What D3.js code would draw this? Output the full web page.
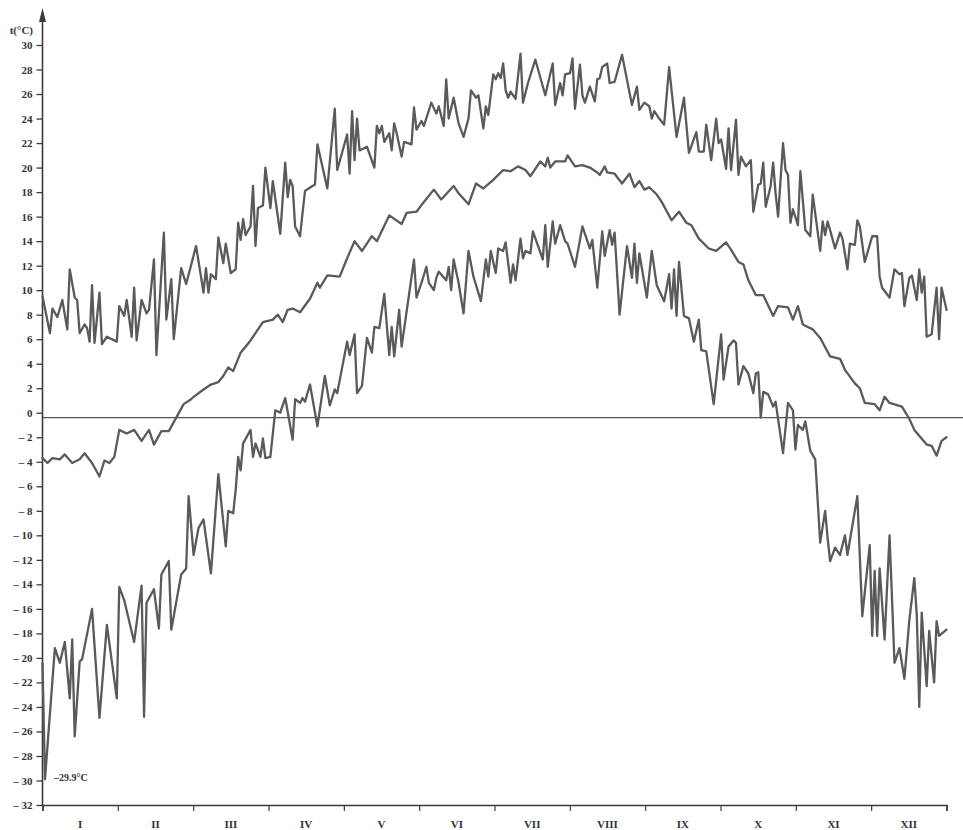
<!DOCTYPE html>
<html>
<head>
<meta charset="utf-8">
<script src="https://cdn.jsdelivr.net/npm/d3@7/dist/d3.min.js"></script>
<style>
  html, body { margin: 0; padding: 0; background: #ffffff; }
  svg { display: block; }
</style>
</head>
<body>
<svg id="chart" width="963" height="830"></svg>
<script>
// Month labels along the time axis
const monthLabels = ["I", "II", "III", "IV", "V", "VI", "VII", "VIII", "IX", "X", "XI", "XII"];
// Temperature ticks (°C)
const tempTicks = d3.range(-32, 31, 2);
const unitLabel = "t(°C)";
const extremeLabel = "–29.9°C";
const baselineTemp = -0.4;

// Daily maximum temperature: [day of year, °C]
const maxSeries = [
  [0,9.5],[3,6.5],[4,8.5],[6,7.8],[8,9.2],[10,6.8],[11,11.7],[13,9.4],[14,9.2],[15,6.5],[17,7.2],[18,6.9],[19,5.8],[20,10.4],[21,5.7],
  [23,9.8],[24,5.6],[26,6.2],[30,5.8],[31,8.7],[33,7.9],[34,9.2],[36,6.2],[37,10.2],[38,5.9],[40,9.2],[42,8.1],[43,8.4],[45,12.5],[46,4.7],
  [49,14.7],[50,7.6],[52,10.9],[53,6.0],[56,11.8],[58,10.5],[62,13.6],[64,11.1],[65,9.8],[66,11.8],[67,9.8],[68,11.3],[70,10.9],[71,14.3],
  [73,12.2],[74,13.8],[76,11.4],[78,11.7],[79,15.5],[80,14.1],[81,15.8],[82,14.5],[84,15.2],[85,18.5],[86,13.6],[87,16.7],[89,16.9],[90,20.0],
  [92,16.7],[93,18.9],[96,14.6],[98,20.4],[99,17.6],[100,19.0],[101,18.5],[102,15.2],[104,14.4],[105,16.3],[106,18.1],[109,18.5],[110,18.6],
  [111,21.9],[115,18.3],[118,24.8],[119,19.8],[123,22.7],[124,19.5],[125,24.6],[126,20.6],[127,24.0],[128,21.4],[131,21.7],[134,20.0],
  [135,23.4],[136,22.8],[137,23.4],[138,22.1],[140,22.8],[141,21.4],[142,23.6],[143,22.8],[145,20.9],[146,22.1],[149,21.9],[150,24.9],
  [151,23.1],[153,23.8],[154,23.4],[157,25.3],[159,24.4],[160,25.0],[162,23.4],[163,27.2],[164,24.0],[166,25.7],[168,23.6],[170,22.5],
  [172,24.0],[173,26.3],[175,25.7],[176,25.9],[178,23.2],[179,25.0],[180,24.3],[182,27.6],[183,27.2],[184,27.7],[185,27.3],[186,28.5],
  [187,26.3],[188,25.7],[189,26.2],[191,25.6],[193,29.3],[194,25.3],[196,26.9],[199,28.8],[203,25.9],[206,28.5],[207,25.1],[209,26.9],
  [210,25.9],[211,27.6],[213,27.7],[214,28.9],[215,24.8],[217,28.4],[218,25.9],[219,25.3],[221,26.6],[223,25.4],[224,27.2],[225,27.3],
  [226,28.2],[228,28.5],[229,26.9],[231,27.0],[234,29.2],[238,25.1],[240,26.6],[241,24.7],[243,25.3],[245,25.0],[246,24.0],[247,24.6],
  [249,24.0],[251,23.5],[253,28.2],[256,22.5],[259,25.7],[261,21.2],[264,22.9],[265,21.3],[267,21.3],[268,23.5],[270,20.6],[272,24.0],
  [273,22.0],[274,22.3],[276,19.9],[277,23.2],[278,19.8],[280,23.9],[281,19.4],[282,20.9],[284,20.1],[286,20.6],[287,16.4],[289,18.6],
  [290,18.7],[291,20.4],[292,16.8],[294,18.5],[295,20.4],[296,17.9],[297,16.0],[299,22.0],[300,19.8],[301,19.4],[302,15.5],[303,16.6],
  [305,15.3],[306,19.7],[308,14.9],[310,14.4],[311,17.8],[314,13.2],[315,15.6],[316,14.5],[317,15.6],[318,14.9],[320,13.4],[322,14.7],
  [323,14.2],[325,11.7],[326,13.8],[328,13.7],[329,15.7],[330,15.2],[332,12.3],[335,14.4],[337,14.4],[338,11.1],[339,10.2],[342,9.4],
  [344,11.7],[346,11.3],[347,11.4],[348,8.7],[350,11.0],[351,11.2],[353,9.2],[354,11.7],[355,9.8],[356,11.1],[357,6.2],[359,6.4],
  [361,10.2],[362,6.0],[363,10.2],[365,8.4]
];

// Daily mean temperature: [day of year, °C]
const meanSeries = [
  [0,-3.7],[2,-4.1],[4,-3.7],[7,-3.8],[9,-3.4],[12,-4.1],[15,-3.8],[17,-3.3],[20,-4.1],[23,-5.2],[25,-3.9],[27,-4.1],[29,-3.6],[31,-1.4],
  [34,-1.7],[37,-1.4],[40,-2.3],[43,-1.4],[45,-2.6],[48,-1.5],[51,-1.5],[54,-0.4],[57,0.7],[60,1.1],[61,1.3],[65,1.9],[68,2.3],[71,2.5],
  [73,3.0],[75,3.7],[77,3.4],[80,4.9],[84,5.9],[89,7.4],[93,7.6],[95,8.0],[97,7.4],[99,8.4],[101,8.5],[104,8.2],[108,9.3],[111,10.6],
  [112,10.2],[115,11.2],[120,11.1],[123,12.6],[126,14.0],[129,13.2],[133,14.4],[135,14.0],[140,16.1],[145,15.4],[147,16.3],[151,16.4],
  [154,17.2],[158,18.2],[161,17.4],[166,18.5],[168,17.9],[172,17.0],[175,18.7],[178,18.3],[182,19.0],[186,19.8],[189,19.7],[192,20.1],
  [195,19.8],[197,19.3],[200,20.2],[201,20.5],[203,20.1],[204,20.8],[205,20.0],[207,20.5],[211,20.5],[212,21.0],[215,20.1],[218,20.2],
  [221,20.0],[224,19.6],[225,19.4],[227,20.1],[228,19.6],[231,19.5],[234,18.7],[237,19.5],[239,18.4],[241,18.9],[243,18.2],[245,18.4],
  [248,17.8],[250,17.2],[254,15.7],[257,16.4],[260,15.5],[262,15.3],[265,14.2],[269,13.4],[272,13.2],[276,13.9],[278,13.3],[281,12.3],
  [283,12.1],[285,10.8],[288,9.6],[291,9.6],[295,7.9],[297,8.7],[301,8.6],[303,7.6],[305,8.7],[307,7.2],[309,7.0],[311,6.8],[314,6.1],
  [318,4.6],[322,4.4],[324,3.5],[328,2.4],[330,2.0],[332,0.8],[336,0.7],[338,0.2],[340,1.3],[342,0.8],[347,0.5],[350,-0.5],[352,-1.4],
  [357,-2.6],[359,-2.7],[361,-3.5],[363,-2.3],[365,-2.0]
];

// Daily minimum temperature: [day of year, °C]
const minSeries = [
  [0,-20.4],[1,-29.9],[5,-19.2],[7,-20.4],[9,-18.7],[11,-23.3],[12,-18.5],[13,-26.4],[15,-20.3],[16,-20.1],[20,-16.0],[23,-24.9],
  [26,-17.3],[30,-23.3],[31,-14.2],[33,-15.3],[37,-18.7],[40,-14.1],[41,-24.8],[42,-15.5],[45,-14.4],[47,-17.6],[48,-13.2],[51,-12.1],
  [52,-17.7],[56,-13.2],[58,-12.7],[59,-6.8],[61,-11.6],[63,-9.4],[65,-8.7],[68,-13.1],[71,-5.0],[74,-10.9],[75,-8.0],[77,-8.2],
  [78,-6.3],[79,-3.6],[80,-4.7],[81,-2.5],[84,-1.4],[85,-3.6],[86,-2.5],[88,-3.6],[89,-2.1],[90,-3.7],[92,-3.6],[94,0.2],[96,0.0],
  [98,1.2],[101,-2.2],[102,1.1],[104,0.8],[105,1.2],[106,0.9],[108,2.3],[111,-1.1],[114,3.0],[116,0.6],[118,1.9],[119,1.6],[123,5.8],
  [124,4.7],[126,6.4],[127,1.6],[129,2.2],[131,6.1],[133,4.9],[134,7.0],[136,6.9],[138,9.7],[140,4.7],[141,7.0],[142,4.6],[144,8.4],
  [145,5.4],[150,12.5],[151,9.4],[153,10.6],[155,11.9],[156,10.6],[158,10.0],[159,11.0],[160,11.5],[163,10.8],[164,11.9],[165,10.0],
  [166,12.5],[168,10.6],[170,8.1],[172,13.2],[174,11.1],[177,9.1],[179,12.5],[180,11.1],[181,13.2],[183,11.4],[184,13.4],[186,13.2],
  [187,13.9],[189,10.6],[190,12.1],[191,10.8],[193,14.2],[194,12.6],[195,13.2],[197,13.0],[198,14.8],[202,12.5],[203,15.3],[204,11.9],
  [206,15.6],[207,13.8],[209,15.3],[211,14.0],[212,13.8],[215,11.9],[218,15.2],[221,13.4],[222,14.1],[224,10.2],[226,14.8],[227,12.8],
  [229,14.9],[230,13.7],[231,14.7],[233,8.0],[236,13.6],[238,11.0],[239,13.8],[240,10.6],[241,13.0],[244,9.4],[246,13.2],[248,10.4],
  [251,9.1],[253,11.3],[254,8.5],[255,11.7],[256,7.9],[257,12.3],[259,7.9],[261,7.7],[263,5.8],[265,7.6],[266,5.1],[268,5.0],[271,0.7],
  [274,6.4],[275,2.7],[277,5.4],[279,5.9],[280,5.7],[281,2.3],[283,3.8],[285,3.2],[287,1.6],[288,3.2],[289,3.3],[290,-0.4],[291,1.7],
  [293,1.5],[295,0.5],[296,0.9],[299,-3.3],[301,0.8],[303,0.2],[304,-3.0],[305,-1.0],[307,-1.4],[308,-0.7],[310,-3.1],[312,-3.8],
  [314,-10.6],[316,-8.0],[317,-10.2],[318,-12.1],[320,-11.0],[322,-11.6],[324,-10.0],[325,-11.6],[329,-6.8],[331,-16.6],[334,-10.8],
  [335,-18.2],[336,-12.9],[337,-18.2],[338,-12.7],[340,-18.5],[342,-10.0],[344,-20.4],[346,-19.2],[348,-21.7],[350,-16.9],[352,-13.5],
  [353,-16.5],[354,-24.0],[355,-16.3],[357,-22.3],[358,-17.8],[360,-22.0],[361,-17.0],[362,-18.2],[365,-17.7]
];

const svg = d3.select("#chart");
const W = 963;

const x = d3.scaleLinear().domain([0, 365]).range([42.5, 946.5]);
const y = d3.scaleLinear().domain([-32, 30]).range([805, 45]);

const ink = "#3b3b3b";
const lineInk = "#5a5a5a";
const labelFont = "'Liberation Serif', 'DejaVu Serif', serif";

// Reference line near 0 °C, running to the right edge
svg.append("line")
  .attr("x1", x(0)).attr("x2", W)
  .attr("y1", y(baselineTemp)).attr("y2", y(baselineTemp))
  .attr("stroke", "#555").attr("stroke-width", 1.3);

// Temperature axis
const yAxis = d3.axisLeft(y)
  .tickValues(tempTicks)
  .tickSize(6)
  .tickPadding(4)
  .tickFormat(d => d < 0 ? "– " + Math.abs(d) : String(d));

const gy = svg.append("g").attr("transform", `translate(${x(0)},0)`).call(yAxis);
gy.select(".domain").remove();
gy.selectAll(".tick line").attr("stroke", ink).attr("stroke-width", 1.3);
gy.selectAll(".tick text")
  .attr("fill", "#333")
  .style("font-family", labelFont)
  .style("font-weight", "bold")
  .style("font-size", "11px");

// Vertical axis line with arrow head
svg.append("line")
  .attr("x1", x(0)).attr("x2", x(0))
  .attr("y1", 14).attr("y2", y(-32))
  .attr("stroke", ink).attr("stroke-width", 1.6);
svg.append("path")
  .attr("d", d3.line()([[x(0) - 3.5, 22], [x(0), 8], [x(0) + 3.5, 22]]) + "Z")
  .attr("fill", ink);

svg.append("text")
  .attr("x", 33).attr("y", 34)
  .attr("text-anchor", "end")
  .attr("fill", "#333")
  .style("font-family", labelFont)
  .style("font-weight", "bold")
  .style("font-size", "11px")
  .text(unitLabel);

// Time axis: month boundaries
const monthLen = 365 / 12;
const xAxis = d3.axisBottom(x)
  .tickValues(d3.range(13).map(k => k * monthLen))
  .tickSize(6)
  .tickFormat("");
const gx = svg.append("g").attr("transform", `translate(0,${y(-32)})`).call(xAxis);
gx.select(".domain").attr("stroke", ink).attr("stroke-width", 1.6);
gx.selectAll(".tick line").attr("stroke", ink).attr("stroke-width", 1.2);

svg.append("g").selectAll("text")
  .data(monthLabels)
  .join("text")
  .attr("x", (d, i) => x((i + 0.5) * monthLen))
  .attr("y", 828)
  .attr("text-anchor", "middle")
  .attr("fill", "#333")
  .style("font-family", labelFont)
  .style("font-weight", "bold")
  .style("font-size", "11px")
  .text(d => d);

// Temperature curves
const line = d3.line()
  .x(d => x(d[0]))
  .y(d => y(d[1]));

[maxSeries, meanSeries, minSeries].forEach(series => {
  svg.append("path")
    .datum(series)
    .attr("d", line)
    .attr("fill", "none")
    .attr("stroke", lineInk)
    .attr("stroke-width", 2.3)
    .attr("stroke-linejoin", "round")
    .attr("stroke-linecap", "round");
});

// Absolute minimum annotation
svg.append("text")
  .attr("x", 54).attr("y", 781)
  .attr("fill", "#333")
  .style("font-family", labelFont)
  .style("font-weight", "bold")
  .style("font-size", "10px")
  .text(extremeLabel);
</script>
</body>
</html>
